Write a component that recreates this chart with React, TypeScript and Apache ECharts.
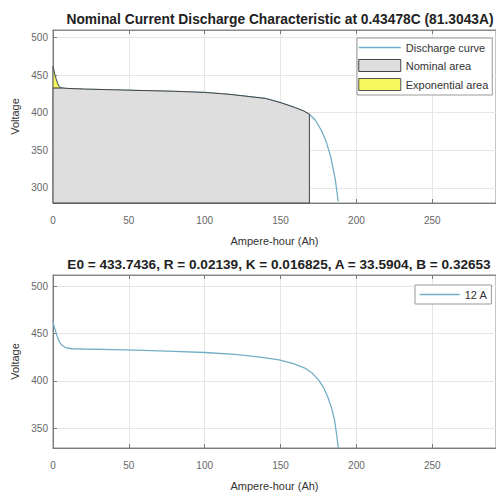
import React, { useEffect, useRef } from "react";
import * as echarts from "echarts";

// Top panel: nominal current discharge characteristic
const topAh = [0, 1, 2, 3, 4, 5, 6, 8, 10, 20, 40, 60, 80, 100, 116, 127, 140, 149, 155, 160, 165, 169, 173, 177, 180, 183, 186, 188];
const topV = [462, 452, 445, 439, 435, 433.5, 433, 432.5, 432.3, 431.5, 430.5, 429.5, 428.5, 427, 424.5, 422, 419, 414, 410, 406.5, 402.5, 398, 390, 376, 362, 342, 312, 282];
const expEndAh = 6;
const expLevelV = 433;
const nominalEndAh = 169;

// Bottom panel: 12 A discharge
const botAh = [0, 1, 2, 3, 4, 5, 6, 8, 10, 13, 20, 40, 60, 80, 100, 120, 135, 149, 158, 166, 171, 175, 178, 181, 183.5, 185.5, 187, 188];
const botV = [463, 456, 451, 446, 442, 439.5, 437.5, 435.5, 434.5, 434, 433.7, 433, 432.2, 431.2, 430, 428, 425.5, 422.3, 418.5, 413.6, 408, 401, 394, 383.5, 372, 359, 343, 329];

const xTicks = [0, 50, 100, 150, 200, 250];
const topYMin = 280;
const topYMax = 510;
const botYMin = 329;
const botYMax = 512;
const xMax = 292;

const topTitle = "Nominal Current Discharge Characteristic at 0.43478C (81.3043A)";
const botTitle = "E0 = 433.7436, R = 0.02139, K = 0.016825, A = 33.5904, B = 0.32653";

const FONT = "Liberation Sans, Arial, sans-serif";
const CURVE = "#72aec6";

export default function App() {
  const ref = useRef<HTMLDivElement>(null);
  useEffect(() => {
    if (!ref.current) return;
    const chart = echarts.init(ref.current, null, { renderer: "svg" });

    const topLine = topAh.map((a, i) => [a, topV[i]]);
    const botLine = botAh.map((a, i) => [a, botV[i]]);

    const expPoly: number[][] = [[0, expLevelV]];
    topAh.forEach((a, i) => { if (a <= expEndAh) expPoly.push([a, topV[i]]); });

    const nomPoly: number[][] = [[0, topYMin], [0, expLevelV]];
    topAh.forEach((a, i) => { if (a >= expEndAh && a <= nominalEndAh) nomPoly.push([a, topV[i]]); });
    nomPoly.push([nominalEndAh, topYMin]);

    const polySeries = (name: string, poly: number[][], fill: string, stroke: string) => ({
      name,
      type: "custom",
      xAxisIndex: 0,
      yAxisIndex: 0,
      z: 3,
      data: poly,
      itemStyle: { color: fill, borderColor: stroke },
      renderItem: (params: any, api: any) => {
        if (params.dataIndex !== 0) return null;
        const pts = poly.map((p) => api.coord(p));
        return {
          type: "polygon",
          shape: { points: pts },
          style: { fill, stroke, lineWidth: 1 },
        };
      },
    });

    const axisCommon = {
      axisLine: { show: true, lineStyle: { color: "#7a7a7a", width: 1 } },
      axisTick: { show: true, inside: true, length: 4, lineStyle: { color: "#7a7a7a" } },
      splitLine: { show: true, lineStyle: { color: "#e6e6e6", width: 1 } },
      nameTextStyle: { fontFamily: FONT, fontSize: 11, color: "#333" },
    };

    const xAxisDef = (gridIndex: number) => ({
      type: "value",
      gridIndex,
      min: 0,
      max: xMax,
      interval: xTicks[1] - xTicks[0],
      name: "Ampere-hour (Ah)",
      nameLocation: "middle",
      nameGap: 32,
      ...axisCommon,
      axisLabel: { fontFamily: FONT, fontSize: 10, color: "#666", margin: 12, showMaxLabel: false },
    });

    const xTopAxisDef = (gridIndex: number) => ({
      type: "value",
      gridIndex,
      position: "top",
      min: 0,
      max: xMax,
      interval: xTicks[1] - xTicks[0],
      axisLine: { show: true, lineStyle: { color: "#8a8a8a", width: 1 } },
      axisTick: { show: true, inside: true, length: 4, lineStyle: { color: "#7a7a7a" } },
      axisLabel: { show: false },
      splitLine: { show: false },
    });

    const yAxisDef = (gridIndex: number, min: number, max: number, split: number) => ({
      type: "value",
      gridIndex,
      min,
      max,
      splitNumber: split,
      name: "Voltage",
      nameLocation: "middle",
      nameGap: 32,
      ...axisCommon,
      axisLabel: { fontFamily: FONT, fontSize: 10, color: "#666", margin: 5, showMinLabel: false, showMaxLabel: false },
    });

    const lineLegendItem = (name: string) => ({ name, itemStyle: { opacity: 0 }, lineStyle: { color: CURVE, width: 1.5 } });

    chart.setOption({
      animation: false,
      backgroundColor: "#ffffff",
      title: [
        { text: topTitle, left: 275, top: 7, textAlign: "center", textStyle: { fontFamily: FONT, fontSize: 13.8, fontWeight: "bold", color: "#222" } },
        { text: botTitle, left: 274, top: 252, textAlign: "center", textStyle: { fontFamily: FONT, fontSize: 13.6, fontWeight: "bold", color: "#222" } },
      ],
      grid: [
        { left: 53, top: 30, right: -8, bottom: 297, show: true, borderColor: "#8a8a8a", borderWidth: 1, backgroundColor: "#fff" },
        { left: 53, top: 275, right: -8, bottom: 52, show: true, borderColor: "#8a8a8a", borderWidth: 1, backgroundColor: "#fff" },
      ],
      xAxis: [xAxisDef(0), xAxisDef(1), xTopAxisDef(0), xTopAxisDef(1)],
      yAxis: [yAxisDef(0, topYMin, topYMax, 5), yAxisDef(1, botYMin, botYMax, 4)],
      legend: [
        {
          orient: "vertical",
          left: 357,
          top: 38,
          itemWidth: 42,
          itemHeight: 12,
          itemGap: 6,
          padding: [4, 4, 4, 1],
          backgroundColor: "#fff",
          borderColor: "#999",
          borderWidth: 1,
          borderRadius: 0,
          textStyle: { fontFamily: FONT, fontSize: 11, color: "#333" },
          data: [
            lineLegendItem("Discharge curve"),
            { name: "Nominal area", icon: "rect", itemStyle: { color: "#dedede", borderColor: "#444", borderWidth: 1 } },
            { name: "Exponential area", icon: "rect", itemStyle: { color: "#f7f75e", borderColor: "#555", borderWidth: 1 } },
          ],
        },
        {
          orient: "vertical",
          left: 415,
          top: 285,
          itemWidth: 40,
          itemHeight: 12,
          padding: [4, 4, 4, 4],
          backgroundColor: "#fff",
          borderColor: "#999",
          borderWidth: 1,
          borderRadius: 0,
          textStyle: { fontFamily: FONT, fontSize: 11, color: "#333" },
          data: [lineLegendItem("12 A")],
        },
      ],
      series: [
        {
          name: "Discharge curve",
          type: "line",
          xAxisIndex: 0,
          yAxisIndex: 0,
          data: topLine,
          showSymbol: false,
          symbol: "none",
          smooth: false,
          z: 2,
          lineStyle: { color: CURVE, width: 1.3 },
          itemStyle: { color: CURVE },
        },
        polySeries("Nominal area", nomPoly, "#dedede", "#444"),
        polySeries("Exponential area", expPoly, "#f7f75e", "#555"),
        {
          name: "12 A",
          type: "line",
          xAxisIndex: 1,
          yAxisIndex: 1,
          data: botLine,
          showSymbol: false,
          symbol: "none",
          z: 2,
          lineStyle: { color: CURVE, width: 1.3 },
          itemStyle: { color: CURVE },
        },
      ],
    });
    return () => chart.dispose();
  }, []);
  return <div ref={ref} style={{ position: "fixed", left: 0, top: 0, width: 496, height: 500 }} />;
}
